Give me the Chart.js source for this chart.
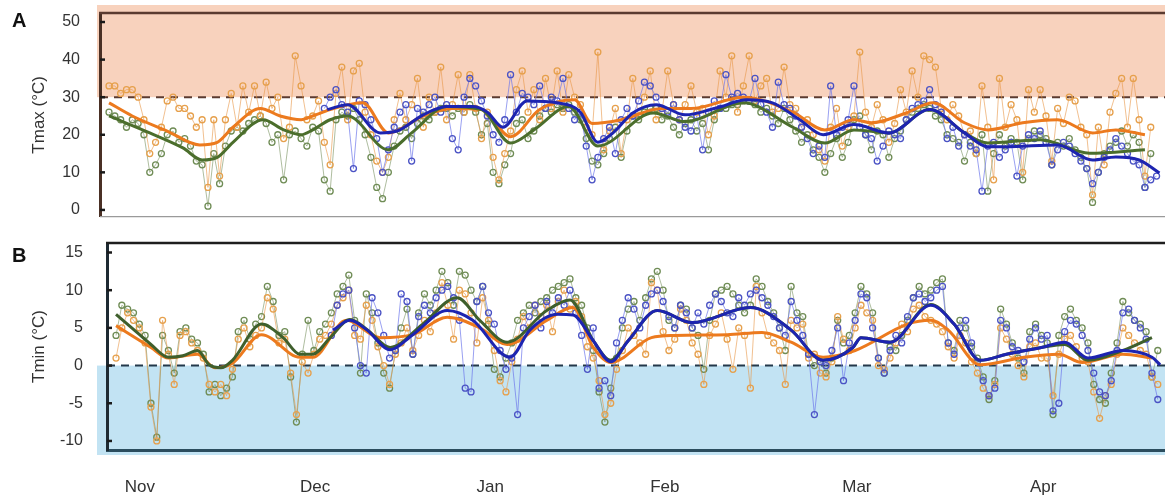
<!DOCTYPE html>
<html>
<head>
<meta charset="utf-8">
<script src="https://cdn.jsdelivr.net/npm/chart.js@4.4.0/dist/chart.umd.min.js"></script>
<style>
  body { margin: 0; background: #fff; width: 1165px; height: 497px; position: relative; overflow: hidden; font-family: "Liberation Sans", Arial, sans-serif; }
  canvas { position: absolute; left: 0; }
  #cA { top: 0; }
  #cB { top: 230px; }
  .lbl { position: absolute; left: 12px; font-weight: bold; font-size: 20px; line-height: 20px; color: #111; }
</style>
</head>
<body>
<canvas id="cA" width="1165" height="230"></canvas>
<canvas id="cB" width="1165" height="267"></canvas>
<div class="lbl" style="top:10px">A</div>
<div class="lbl" style="top:245px">B</div>
<script>
// month ticks (day index from start of record)
const monthNames = ["Nov", "Dec", "Jan", "Feb", "Mar", "Apr"];
const monthDays = [4.1, 34.2, 64.3, 94.3, 127.3, 159.3];
const yTicksA = [0, 10, 20, 30, 40, 50];
const yTicksB = [-10, -5, 0, 5, 10, 15];
const blueStart = 37;

// daily Tmax
const tmaxOrange = [
  33, 33, 31, 32, 32, 30, 24, 15, 18, 22,
  29, 30, 27, 27, 25, 22, 24, 6, 24, 9,
  24, 31, 22, 33, 26, 33, 25, 34, 27, 30,
  19, 22, 41, 33, 24, 25, 29, 18, 12, 31,
  38, 24, 37, 39, 26, 20, 13, 10, 14, 24,
  31, 24, 28, 35, 22, 30, 26, 38, 24, 28,
  36, 26, 36, 27, 19, 26, 14, 8, 15, 21,
  32, 37, 26, 32, 24, 35, 27, 37, 26, 36,
  30, 28, 22, 20, 42, 16, 21, 27, 15, 24,
  35, 25, 30, 37, 24, 26, 37, 28, 24, 28,
  33, 26, 27, 20, 25, 37, 30, 41, 26, 33,
  41, 29, 33, 35, 26, 27, 38, 28, 27, 22,
  24, 20, 16, 13, 22, 27, 17, 22, 25, 42,
  26, 22, 28, 24, 18, 23, 32, 26, 37, 30,
  41, 40, 38, 27, 24, 28, 25, 20, 21, 15,
  33, 22, 8, 35, 22, 28, 24, 10, 32, 26,
  32, 25, 13, 27, 23, 30, 29, 22, 20, 4,
  22, 12, 26, 31, 35, 22, 35, 24, 9, 22
];
const tmaxGreen = [
  26, 25, 24, 22, 24, 23, 20, 10, 12, 15,
  20, 21, 18, 19, 17, 13, 12, 1, 15, 7,
  17, 21, 22, 21, 23, 24, 25, 23, 18, 20,
  8, 20, 21, 19, 17, 22, 21, 8, 5, 24,
  26, 25, 27, 24, 20, 14, 6, 3, 10, 17,
  21, 22, 19, 23, 25, 24, 26, 27, 27, 25,
  27, 26, 28, 26, 20, 23, 10, 7, 12, 15,
  23, 24, 19, 21, 25, 27, 26, 28, 27, 28,
  26, 24, 19, 13, 12, 15, 19, 22, 14, 21,
  25, 24, 26, 27, 27, 24, 25, 22, 20, 23,
  24, 21, 23, 16, 24, 27, 27, 28, 28, 29,
  29, 28, 26, 27, 25, 23, 27, 24, 21, 18,
  20, 16, 14, 10, 15, 19, 14, 18, 24, 25,
  20, 16, 21, 20, 14, 19, 21, 24, 26, 27,
  28, 27, 25, 24, 20, 19, 18, 13, 18, 15,
  20, 5, 15, 20, 17, 19, 18, 8, 19, 21,
  20, 19, 12, 18, 17, 19, 16, 14, 11, 2,
  10, 15, 17, 18, 21, 17, 20, 18, 6, 15
];
const tmaxBlue = [
  27, 30, 32, 28, 26, 11, 29, 28, 24, 19,
  10, 16, 22, 26, 28, 13, 27, 26, 28, 30,
  26, 28, 19, 16, 30, 35, 33, 29, 25, 20,
  18, 24, 36, 26, 31, 30, 28, 33, 27, 30,
  29, 35, 27, 24, 26, 17, 8, 14, 19, 22,
  15, 24, 27, 25, 29, 34, 33, 30, 27, 26,
  28, 24, 22, 21, 25, 16, 26, 29, 27, 36,
  30, 31, 30, 29, 35, 28, 26, 22, 34, 28,
  27, 25, 22, 19, 15, 17, 14, 33, 20, 22,
  24, 33, 22, 20, 19, 13, 17, 21, 20, 19,
  24, 27, 28, 29, 32, 28, 26, 19, 22, 17,
  20, 17, 16, 5, 17, 18, 14, 16, 18, 9,
  17, 20, 19, 21, 18, 12, 16, 18, 17, 15,
  13, 11, 7, 10, 14, 16, 19, 17, 15, 13,
  12, 6, 8, 9
];

// daily Tmin
const tminOrange = [
  1, 5, 7, 6, 5, 3, -5.5, -10, 6, 1.5,
  -2.5, 4, 4.5, 3, 2, 1, -2.5, -3.5, -2.5, -4,
  -0.5, 3.5, 5, 2.5, 4, 5, 9, 7.5, 3, 3.5,
  -1, -6.5, 0.5, -1, 1.5, 3.5, 4, 5.5, 8, 9,
  10, 4, 3.5, 8, 6, 2.5, 0, -2.5, 1.5, 3,
  5, 2, 4, 6, 4.5, 7, 11, 8, 3.5, 10,
  9.5, 7, 3, 9, 6, 2, -2, -3.5, 0.5, 3.5,
  6.5, 5, 8, 6.5, 8, 4.5, 8.5, 10, 7.5, 8.5,
  6.5, 2.5, 1, -2, -6.5, -5, -0.5, 2, 5, 4,
  3, 1.5, 11, 10, 4.5, 2, 3.5, 7.5, 6, 3,
  1.5, -2.5, 4, 5.5, 7, 3.5, -0.5, 5, 4, -3,
  10.5, 7, 4, 3, 2, -2.5, 6, 5, 5.5, 1,
  1.5, -1, -1.5, 0.5, 6.5, 3.5, 2, 5, 8, 7,
  6, 0, -0.5, 1, 3, 5.5, 4.5, 7.5, 8, 6.5,
  6, 5.5, 4.5, 2.5, 1, 4, 3, 0.5, -1, -3,
  -4, -2.5, 5, 3.5, 1.5, 0, -1.5, 2.5, 3, 1,
  1, -4, 1.5, 3.5, 4, 2.5, 1, 0.5, -3.5, -7,
  -4, -2.5, 1.5, 5, 4, 3, 2, 1.5, -1.5, -2.5
];
const tminGreen = [
  4, 8, 7.5, 7, 5.5, 4, -5, -9.5, 4, 2,
  -1, 4.5, 5, 3.5, 3, 1.5, -3.5, -2.5, -4, -3,
  -1.5, 4.5, 6, 3.5, 5.5, 6.5, 10.5, 8.5, 4, 4.5,
  -1.5, -7.5, 1.5, 6, 2, 4.5, 5.5, 7, 9.5, 10.5,
  12, 6, -1, 9.5, 7, 3, -1, -3, 2, 5,
  7.5, 1.5, 7, 9.5, 8, 10, 12.5, 11, 8, 12.5,
  12, 10, 8.5, 10.5, 5.5, -0.5, -1.5, 1, 3, 6,
  7, 8, 7, 8.5, 9, 10, 10.5, 11, 11.5, 9,
  8, 5, 2, -3.5, -7.5, -3, 1, 5, 7.5, 8.5,
  6, 9, 11.5, 12.5, 10, 6, 5, 8, 7.5, 5,
  4, -0.5, 6, 9.5, 10, 10.5, 9.5, 8, 7, 8,
  11.5, 10.5, 8.5, 7, 5, 2, 10.5, 7, 6.5, 1.5,
  0, 0.5, -1, 1, 6, 3, 4, 7, 10.5, 9.5,
  7, 1, -1, 2.5, 2, 4, 6, 9, 10.5, 9.5,
  10, 11, 11.5, 3, 2, 6, 5, 2.5, 1, -1.5,
  -4.5, -2, 7.5, 5.5, 3, 1, -1, 4.5, 5.5, 4,
  3, -6.5, 4, 6.5, 7.5, 6, 5, 3, -2.5, -4.5,
  -5, -1, 3, 8.5, 7, 6, 5.5, 4.5, -1.5, 2
];
const tminBlue = [
  4, 8, 9.5, 10, 5, 0, -1, 9, 7, 4,
  1, 2, 9.5, 8.5, 1.5, 6.5, 8, 7, 9, 10,
  10.5, 9, 6, -3, -3.5, 8.5, 10.5, 7, 5.5, 2,
  -0.5, 1, -6.5, 5, 6.5, 8, 5, 8.5, 7, 9,
  8, 10, 7, 4, -0.5, 5, -3, -2, -4, 3,
  6, 9, 7.5, 5, 8, 9.5, 10, 8.5, 6.5, 5,
  8, 7, 5, 7, 5.5, 8, 9.5, 8.5, 7, 6.5,
  9, 8, 9.5, 10, 9, 8, 6.5, 5, 4, 8.5,
  6, 4, 1.5, -6.5, 0.5, 0, 2, 5, -2, 3,
  6, 9.5, 9, 5, 1, -1, 2, 4, 3, 6.5,
  9, 9.5, 8.5, 9, 10, 10.5, 3, 1.5, 5, 6,
  3, 0.5, -2, -4, -3, 6, 5, 2.5, 2, 0.5,
  3.5, 5, 3.5, 4, -6, -5, 4.5, 6, 5.5, 4,
  2, -1, -3.5, -4, -2, 2, 7, 7.5, 6, 5,
  3.5, -1, -4.5
];

// smoothed curves (day, value)
const smDaysOrangeA = [0, 4, 10, 15.6, 18.6, 21.3, 26, 29.4, 33, 35, 38, 43.6, 48, 54, 59, 64, 69, 74, 80, 83, 88, 95, 100, 109, 117.5, 123, 128, 131, 137, 141.6, 147, 151, 157, 163, 169, 173, 178];
const smOrangeA = [28.5, 25, 21, 17.3, 18, 22, 27, 25, 24, 25, 26.7, 28.5, 20.5, 25, 27, 26.7, 19.5, 26.7, 29.3, 23, 24, 27, 27, 30, 26, 21.3, 24, 23.2, 25.8, 28.5, 23.2, 21.3, 23.2, 24, 20.5, 21.3, 20];
const smDaysGreenA = [0, 7, 12.7, 16, 18.6, 21.3, 26.5, 30, 33, 35, 38, 41, 48, 52, 58, 64, 69, 73, 79, 84, 93.5, 99, 109, 117.5, 123, 128, 134, 141, 147, 151, 160, 168.5, 178];
const smGreenA = [25, 20.5, 16.5, 13.3, 14, 18, 24, 21.3, 20, 21.3, 24, 25, 16, 20.5, 27.5, 26.7, 17.8, 21.3, 27.5, 17, 25.8, 23.5, 28.5, 22, 17.8, 21.3, 20.5, 26.7, 20.5, 17.8, 18.7, 15.1, 16];
const smDaysBlueA = [37.5, 41, 46.6, 49.5, 54, 58, 62.5, 65, 67.7, 71.8, 77, 81, 84, 86.6, 90, 94, 99, 104.5, 109.6, 114, 118.7, 122.7, 128, 134, 141, 147, 151, 154, 163, 169, 173, 177, 180.5];
const smBlueA = [26.7, 28, 20.5, 21, 25.3, 27.5, 27.5, 26, 22, 29, 28.5, 26, 18, 20.5, 25.8, 28, 25.3, 27.2, 29.3, 28.5, 24, 20, 22.7, 20.5, 26.7, 20.5, 16.8, 16.8, 17.3, 13.3, 14.1, 13.3, 9.8];

const smDaysOrangeB = [0, 6, 9, 14, 17, 20, 25, 31.6, 33.8, 39.6, 45.4, 51, 56.9, 62.5, 67.2, 74, 78.5, 82, 85, 92, 96, 105, 111, 116, 121.5, 127, 136, 140, 143, 148.5, 156, 162, 166, 173, 178];
const smOrangeB = [5.3, 2.4, 1, 1.5, -0.3, 0.3, 4.1, 1.1, 1.1, 6, 3.7, 4.1, 6.4, 5, 2.8, 6, 7.7, 2.4, 0.4, 3.7, 4, 4.1, 4.4, 3.1, 1.1, 2, 5.5, 6, 4.7, 0.1, 1.1, 1.5, 0.4, 1.5, 1];
const smDaysGreenB = [0, 3, 6, 9, 11.5, 14, 16, 18, 20, 25, 28.7, 31.6, 33.8, 36.8, 40.2, 43.1, 47.1, 52.7, 58.6, 62.5, 67.2, 74, 78, 82, 85, 88, 93, 99, 109, 116, 121.5, 126.6, 128, 133, 140, 144, 148.5, 153, 159, 163, 167, 173, 178];
const smGreenB = [6.8, 4.8, 2.8, 1.1, 1.3, 2, 0.1, -0.3, 0.7, 5.5, 3.7, 1.5, 1.5, 3.7, 6.1, 4.8, 2.4, 5.5, 9, 6, 3.1, 7.3, 8.7, 3.3, 0.7, 3.3, 7.3, 5.7, 7.7, 4.7, 0.7, 2.4, 3.7, 3.1, 8.1, 5.5, 0.7, 1.5, 2.4, 2.8, 0.7, 2, 3.7];
const smDaysBlueB = [37.3, 40.2, 43, 47.1, 51, 56.9, 61.3, 67.7, 71.1, 75.8, 78.5, 82, 85, 88, 93, 99, 109, 116, 121.5, 126.6, 128, 133, 140, 144, 148.5, 153, 159, 163, 167, 173, 178, 179.4];
const smBlueB = [4.7, 6, 4.8, 2.1, 4.1, 7.3, 6, 1.1, 4.7, 6.8, 6.7, 3.3, 0.5, 3.3, 7.3, 5.7, 7.7, 4.7, 0.7, 2.4, 3.7, 3.1, 8, 5.5, 0.7, 1.5, 2.4, 3.1, 1, 2, 1.1, 0.1];

const FONT = '"Liberation Sans", Arial, sans-serif';

function daily(start, arr) {
  return arr.map((v, i) => ({ x: start + i, y: v }));
}
function smooth(days, vals) {
  return days.map((d, i) => ({ x: d, y: vals[i] }));
}
function rawSet(data, mark, line, order) {
  return {
    data, order, borderColor: line, borderWidth: 1, tension: 0,
    pointRadius: 3, pointBorderWidth: 1.3, pointBorderColor: mark,
    pointBackgroundColor: "rgba(255,255,255,0)"
  };
}
function smoothSet(data, color, order) {
  return { data, order, borderColor: color, borderWidth: 3, pointRadius: 0, cubicInterpolationMode: "monotone" };
}
// keep the plot box exactly where the layout padding puts it
function noPad(s) {
  s.paddingTop = 0; s.paddingBottom = 0; s.paddingLeft = 0; s.paddingRight = 0;
}

// shading, dashed threshold, frame lines, inward tick marks
const decor = {
  id: "decor",
  beforeDraw(chart, args, o) {
    const ctx = chart.ctx;
    const p = chart.scales.y.getPixelForValue(o.shadeAt);
    ctx.save();
    ctx.fillStyle = o.shadeColor;
    ctx.fillRect(97, Math.min(p, o.shadeEdge), chart.width - 97, Math.abs(p - o.shadeEdge));
    ctx.restore();
  },
  beforeDatasetsDraw(chart, args, o) {
    const ctx = chart.ctx, a = chart.chartArea;
    const p = chart.scales.y.getPixelForValue(o.shadeAt);
    ctx.save();
    ctx.strokeStyle = o.dashColor;
    ctx.lineWidth = 2;
    ctx.setLineDash([8, 6]);
    ctx.beginPath();
    ctx.moveTo(a.left, p);
    ctx.lineTo(a.right, p);
    ctx.stroke();
    ctx.restore();
  },
  afterDraw(chart, args, o) {
    const ctx = chart.ctx, a = chart.chartArea, y = chart.scales.y;
    ctx.save();
    ctx.strokeStyle = o.topColor;
    ctx.lineWidth = 2.5;
    ctx.beginPath();
    ctx.moveTo(a.left - 1, a.top);
    ctx.lineTo(a.right, a.top);
    ctx.stroke();
    if (o.bottomColor) {
      ctx.strokeStyle = o.bottomColor;
      ctx.lineWidth = 1.2;
      ctx.beginPath();
      ctx.moveTo(a.left, a.bottom);
      ctx.lineTo(a.right, a.bottom);
      ctx.stroke();
    }
    ctx.strokeStyle = "#1a1a1a";
    ctx.lineWidth = 2.5;
    y.ticks.forEach(t => {
      const py = y.getPixelForValue(t.value);
      ctx.beginPath();
      ctx.moveTo(a.left, py);
      ctx.lineTo(a.left + 5, py);
      ctx.stroke();
    });
    ctx.restore();
  }
};

function yAxis(min, max, width, ticks, pad, title, borderColor) {
  return {
    min, max,
    afterFit: s => { s.width = width; noPad(s); },
    afterBuildTicks: s => { s.ticks = ticks.map(v => ({ value: v })); },
    grid: { display: false, drawTicks: false },
    border: { display: true, color: borderColor, width: 3 },
    ticks: { padding: pad, color: "#333", font: { family: FONT, size: 16 } },
    title: { display: true, text: title, color: "#333", font: { family: FONT, size: 17 }, padding: { top: 29, bottom: 0 } }
  };
}

new Chart(document.getElementById("cA"), {
  type: "line",
  data: {
    datasets: [
      smoothSet(smooth(smDaysBlueA, smBlueA), "#1d24b0", 0),
      smoothSet(smooth(smDaysGreenA, smGreenA), "#4b6e2c", 1),
      smoothSet(smooth(smDaysOrangeA, smOrangeA), "#ec7a1e", 2),
      rawSet(daily(blueStart, tmaxBlue), "#4a52c4", "rgba(110,120,235,0.7)", 3),
      rawSet(daily(0, tmaxOrange), "#e6a04c", "rgba(232,150,70,0.6)", 4),
      rawSet(daily(0, tmaxGreen), "#6f8c55", "rgba(120,145,95,0.6)", 5)
    ]
  },
  options: {
    responsive: false, animation: false, events: [],
    layout: { autoPadding: false, padding: { top: 13, bottom: 13.3, left: 0, right: 0 } },
    plugins: {
      legend: { display: false }, tooltip: { enabled: false },
      decor: { shadeAt: 30, shadeEdge: 5, shadeColor: "#f8d2bd", dashColor: "#5b3b30", topColor: "#5b3b30", bottomColor: "#9a9a9a" }
    },
    scales: {
      x: { type: "linear", min: -1.55, max: 181.45, display: false },
      y: yAxis(-1.8, 52.4, 100, yTicksA, 20, "Tmax (°C)", "#4a3025")
    }
  },
  plugins: [decor]
});

new Chart(document.getElementById("cB"), {
  type: "line",
  data: {
    datasets: [
      smoothSet(smooth(smDaysBlueB, smBlueB), "#1d24b0", 0),
      smoothSet(smooth(smDaysGreenB, smGreenB), "#3f5f2c", 1),
      smoothSet(smooth(smDaysOrangeB, smOrangeB), "#ec7a1e", 2),
      rawSet(daily(blueStart, tminBlue), "#4a52c4", "rgba(110,120,235,0.7)", 3),
      rawSet(daily(0, tminOrange), "#e6a04c", "rgba(232,150,70,0.6)", 4),
      rawSet(daily(0, tminGreen), "#6f8c55", "rgba(120,145,95,0.6)", 5)
    ]
  },
  options: {
    responsive: false, animation: false, events: [],
    layout: { autoPadding: false, padding: { top: 13, bottom: 0, left: 0, right: 0 } },
    plugins: {
      legend: { display: false }, tooltip: { enabled: false },
      decor: { shadeAt: 0, shadeEdge: 225, shadeColor: "#c2e3f3", dashColor: "#23384a", topColor: "#1e1e1e" }
    },
    scales: {
      x: {
        type: "linear", min: -1.55, max: 180.24,
        afterFit: s => { s.height = 47; noPad(s); },
        afterBuildTicks: s => { s.ticks = monthDays.map(v => ({ value: v })); },
        grid: { display: false, drawTicks: false },
        border: { display: true, color: "#2b4d5e", width: 3 },
        ticks: {
          padding: 27, autoSkip: false, maxRotation: 0, color: "#333",
          font: { family: FONT, size: 17 },
          callback: (v, i) => monthNames[i]
        }
      },
      y: yAxis(-11.2, 16.26, 107, yTicksB, 24, "Tmin (°C)", "#1e2a33")
    }
  },
  plugins: [decor]
});
</script>
</body>
</html>
